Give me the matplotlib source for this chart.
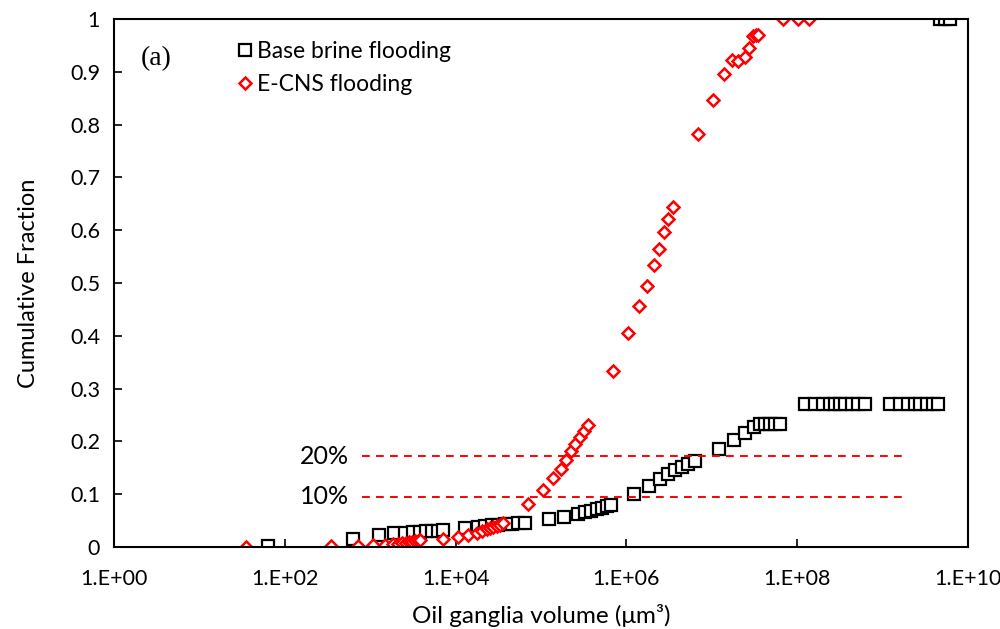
import matplotlib
matplotlib.use("Agg")
import matplotlib.pyplot as plt
import numpy as np

# Base brine flooding (black squares)
base_volume = [64, 630, 1270, 1900, 2550, 3170, 3830, 4500, 5290, 6220, 7120,
               12900, 18300, 22100, 26700, 31400, 37900, 45700, 53800, 65000,
               124000, 186000, 271000, 327000, 385000, 453000, 518000, 593000, 661000,
               1.23e6, 1.84e6, 2.47e6, 3.07e6, 3.71e6, 4.48e6, 5.26e6, 6.36e6,
               1.21e7, 1.82e7, 2.45e7, 3.12e7, 3.67e7, 4.20e7, 4.80e7, 5.50e7, 6.29e7,
               1.23e8, 1.62e8, 2.01e8, 2.42e8, 2.77e8, 3.17e8, 3.63e8, 4.38e8, 5.15e8, 6.22e8,
               1.22e9, 1.60e9, 1.98e9, 2.39e9, 2.74e9, 3.31e9, 3.89e9, 4.46e9,
               4.70e9, 5.38e9, 6.16e9]
base_frac = [0.002, 0.016, 0.023, 0.026, 0.027, 0.028, 0.029, 0.030, 0.030, 0.031, 0.032,
             0.036, 0.038, 0.040, 0.041, 0.042, 0.043, 0.044, 0.045, 0.046,
             0.053, 0.057, 0.062, 0.066, 0.069, 0.072, 0.074, 0.077, 0.080,
             0.100, 0.116, 0.129, 0.138, 0.146, 0.152, 0.157, 0.163,
             0.186, 0.203, 0.216, 0.227, 0.233, 0.233, 0.233, 0.233, 0.233,
             0.271, 0.271, 0.271, 0.271, 0.271, 0.271, 0.271, 0.271, 0.271, 0.271,
             0.271, 0.271, 0.271, 0.271, 0.271, 0.271, 0.271, 0.271,
             1.0, 1.0, 1.0]

# E-CNS flooding (red diamonds)
ecns_volume = [35, 348, 720, 1080, 1490, 1850, 2120, 2360, 2620, 2850, 3090, 3350, 3630, 3830,
               7120, 10700, 14000, 17800, 20400, 23300, 25300, 27400, 30500, 33100, 35900,
               70500, 105000, 138000, 171000, 196000, 225000, 250000, 286000, 319000, 355000,
               697000, 1.04e6, 1.41e6, 1.74e6, 2.10e6, 2.41e6, 2.76e6, 3.07e6, 3.51e6,
               6.89e6, 1.03e7, 1.39e7, 1.72e7, 2.03e7, 2.45e7, 2.73e7, 3.04e7, 3.29e7, 3.48e7,
               6.82e7, 1.02e8, 1.37e8]
ecns_frac = [0.0, 0.001, 0.002, 0.003, 0.004, 0.005, 0.006, 0.007, 0.008, 0.009, 0.010, 0.011, 0.012, 0.013,
             0.015, 0.019, 0.023, 0.027, 0.030, 0.034, 0.036, 0.038, 0.040, 0.042, 0.045,
             0.081, 0.108, 0.131, 0.148, 0.165, 0.182, 0.195, 0.208, 0.220, 0.231,
             0.333, 0.405, 0.456, 0.494, 0.534, 0.564, 0.597, 0.621, 0.644,
             0.782, 0.847, 0.896, 0.922, 0.920, 0.928, 0.945, 0.968, 0.970, 0.970,
             1.0, 1.0, 1.0]

ref_levels = [0.172, 0.095]
ref_labels = ["20%", "10%"]
ref_xrange = [800, 1.69e9]

xticks = [1, 1e2, 1e4, 1e6, 1e8, 1e10]
xtick_labels = ["1.E+00", "1.E+02", "1.E+04", "1.E+06", "1.E+08", "1.E+10"]
yticks = [0, 0.1, 0.2, 0.3, 0.4, 0.5, 0.6, 0.7, 0.8, 0.9, 1.0]
ytick_labels = ["0", "0.1", "0.2", "0.3", "0.4", "0.5", "0.6", "0.7", "0.8", "0.9", "1"]

plt.rcParams['font.family'] = ['Lato', 'DejaVu Sans']

fig = plt.figure(figsize=(10, 6.29), dpi=100)
ax = fig.add_axes([0.114, 0.1304, 0.854, 0.8394])

ax.plot(base_volume, base_frac, linestyle='none', marker='s', markersize=8.5,
        markerfacecolor='white', markeredgecolor='black', markeredgewidth=1.6,
        label='Base brine flooding')
ax.plot(ecns_volume, ecns_frac, linestyle='none', marker='D', markersize=6.5,
        markerfacecolor='white', markeredgecolor='#ff0000', markeredgewidth=1.8,
        label='E-CNS flooding')

for lev, lab in zip(ref_levels, ref_labels):
    ax.plot(ref_xrange, [lev, lev], color='#ff0000', linewidth=1.4, dashes=(4, 3.2))
    ax.text(560, lev, lab, ha='right', va='center', fontsize=18, color='black')

ax.set_xscale('log')
ax.set_xlim(1, 1e10)
ax.set_ylim(0, 1)
ax.set_xticks(xticks)
ax.set_xticklabels(xtick_labels)
ax.minorticks_off()
ax.set_yticks(yticks)
ax.set_yticklabels(ytick_labels)
ax.tick_params(axis='both', direction='in', length=6, width=1.2, labelsize=15.5)
ax.tick_params(axis='x', pad=16)
ax.tick_params(axis='y', pad=10)
for sp in ax.spines.values():
    sp.set_linewidth(1.5)
    sp.set_color('black')

ax.set_xlabel('Oil ganglia volume (μm³)', fontsize=17.5, labelpad=11)
ax.set_ylabel('Cumulative Fraction', fontsize=17, labelpad=22)

ax.text(0.031, 0.925, '(a)', transform=ax.transAxes, fontsize=20,
        family='Liberation Serif', ha='left', va='center')

leg = ax.legend(loc='upper left', bbox_to_anchor=(0.131, 0.975), frameon=False,
                fontsize=16.5, handletextpad=0.05, handlelength=0.9,
                labelspacing=0.5, borderaxespad=0)

fig.savefig('out.png', dpi=100)
